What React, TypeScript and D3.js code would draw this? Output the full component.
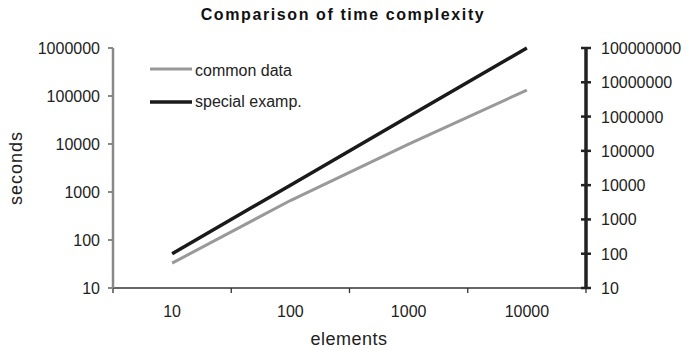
import React from "react";
import * as d3 from "d3";

const categories = ["10", "100", "1000", "10000"];
const commonData = [33, 664, 9966, 132877];
const specialExamp = [100, 10000, 1000000, 100000000];
const leftTicks = [10, 100, 1000, 10000, 100000, 1000000];
const rightTicks = [10, 100, 1000, 10000, 100000, 1000000, 10000000, 100000000];

const W = 686, H = 350;
const x0 = 113, x1 = 586, yTop = 48, yBot = 288;
const font = "'Liberation Sans', Arial, sans-serif";
const fs = 16;

export default function App() {
  const x = d3.scaleBand<string>().domain(categories).range([x0, x1]);
  const yL = d3.scaleLog().domain([10, 1e6]).range([yBot, yTop]);
  const yR = d3.scaleLog().domain([10, 1e8]).range([yBot, yTop]);
  const cx = (c: string) => (x(c) as number) + x.bandwidth() / 2;
  const lineL = d3.line<number>().x((_, i) => cx(categories[i])).y((d) => yL(d));
  const lineR = d3.line<number>().x((_, i) => cx(categories[i])).y((d) => yR(d));
  const xTickPos = [...categories.map((c) => x(c) as number), x1];

  return (
    <svg width={W} height={H} style={{ position: "absolute", left: 0, top: 0, background: "#fff" }} fontFamily={font}>
      <text x={343} y={20} textAnchor="middle" fontWeight="bold" fontSize={16} letterSpacing={1.6} fill="#111">
        Comparison of time complexity
      </text>
      {/* series */}
      <path d={lineL(commonData) || ""} fill="none" stroke="#999" strokeWidth={3} />
      <path d={lineR(specialExamp) || ""} fill="none" stroke="#1a1a1a" strokeWidth={3.5} />
      {/* x axis */}
      <line x1={x0} x2={x1} y1={yBot} y2={yBot} stroke="#333" strokeWidth={1.3} />
      {xTickPos.map((p, i) => (
        <line key={i} x1={p} x2={p} y1={yBot} y2={yBot + 5} stroke="#333" strokeWidth={1.3} />
      ))}
      {categories.map((c) => (
        <text key={c} x={cx(c)} y={yBot + 29} textAnchor="middle" fontSize={fs} fill="#222">{c}</text>
      ))}
      {/* left axis */}
      <line x1={x0} x2={x0} y1={yTop} y2={yBot} stroke="#888" strokeWidth={2.5} />
      {leftTicks.map((t) => (
        <g key={t}>
          <line x1={x0 - 5} x2={x0} y1={yL(t)} y2={yL(t)} stroke="#888" strokeWidth={2} />
          <text x={100} y={yL(t) + 6} textAnchor="end" fontSize={fs} fill="#222">{t}</text>
        </g>
      ))}
      {/* right axis */}
      <line x1={x1} x2={x1} y1={yTop} y2={yBot} stroke="#222" strokeWidth={3.5} />
      {rightTicks.map((t) => (
        <g key={t}>
          <line x1={x1 - 5} x2={x1 + 5} y1={yR(t)} y2={yR(t)} stroke="#222" strokeWidth={2.5} />
          <text x={601} y={yR(t) + 6} textAnchor="start" fontSize={fs} fill="#222">{t}</text>
        </g>
      ))}
      {/* axis titles */}
      <text transform={`translate(22,${(yTop + yBot) / 2}) rotate(-90)`} textAnchor="middle" fontSize={18} letterSpacing={1} fill="#222">seconds</text>
      <text x={349} y={345} textAnchor="middle" fontSize={18} letterSpacing={0.5} fill="#222">elements</text>
      {/* legend */}
      <line x1={150} x2={192} y1={69} y2={69} stroke="#999" strokeWidth={3} />
      <text x={195} y={76} fontSize={fs} fill="#222">common data</text>
      <line x1={150} x2={192} y1={102} y2={102} stroke="#1a1a1a" strokeWidth={3.5} />
      <text x={195} y={107} fontSize={fs} fill="#222">special examp.</text>
    </svg>
  );
}
